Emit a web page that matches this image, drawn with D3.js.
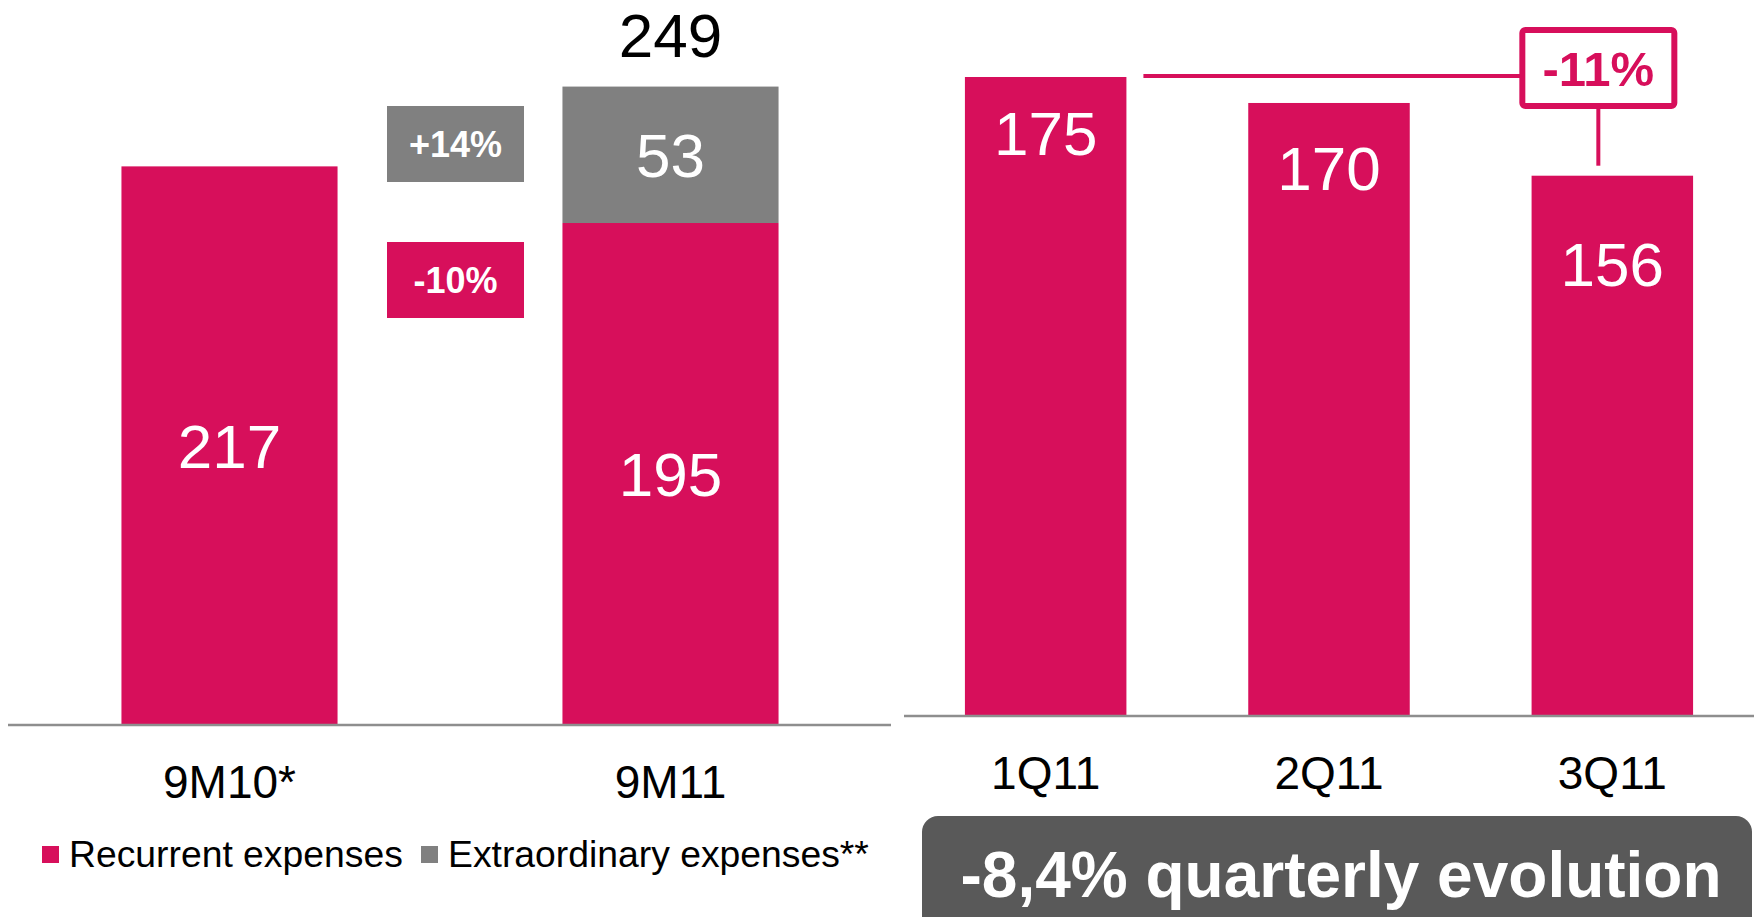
<!DOCTYPE html>
<html>
<head>
<meta charset="utf-8">
<script src="https://cdn.jsdelivr.net/npm/d3@7"></script>
<style>
  html, body { margin: 0; padding: 0; background: #ffffff; overflow: hidden; }
  svg { display: block; font-family: "Liberation Sans", Arial, sans-serif; }
</style>
</head>
<body>
<svg id="chart" width="1754" height="917"></svg>
<script>
// Nine-month comparison (stacked: recurrent + extraordinary)
const periods = ["9M10*", "9M11"];
const recurrent = [217, 195];
const extraordinary = [0, 53];
const periodTotals = [null, 249];

// Quarterly recurrent expenses
const quarters = ["1Q11", "2Q11", "3Q11"];
const quarterly = [175, 170, 156];

// Annotations
const changeBadges = [
  { text: "+14%", series: "extra" },
  { text: "-10%", series: "recurrent" }
];
const quarterChange = "-11%";
const headline = "-8,4% quarterly evolution";
const legendItems = [
  { label: "Recurrent expenses", series: "recurrent" },
  { label: "Extraordinary expenses**", series: "extra" }
];

const PINK = "#d70f5b";
const GREY = "#808080";
const AXIS = "#8e8e8e";
const colour = { recurrent: PINK, extra: GREY };

const svg = d3.select("#chart");

// ---------- left panel: 9M comparison ----------
const xL = d3.scaleBand().domain(periods).range([9, 891]).paddingInner(0.51).paddingOuter(0.255);
const yL = d3.scaleLinear().domain([0, 249]).range([725, 84]);

const left = svg.append("g");
const rows = periods.map((p, i) => ({ p, r: recurrent[i], e: extraordinary[i], t: periodTotals[i] }));

left.selectAll("rect.rec").data(rows).join("rect")
  .attr("x", d => xL(d.p)).attr("width", xL.bandwidth())
  .attr("y", d => yL(d.r)).attr("height", d => yL(0) - yL(d.r))
  .attr("fill", PINK);

left.selectAll("rect.ext").data(rows.filter(d => d.e > 0)).join("rect")
  .attr("x", d => xL(d.p)).attr("width", xL.bandwidth())
  .attr("y", d => yL(d.r + d.e)).attr("height", d => yL(d.r) - yL(d.r + d.e))
  .attr("fill", GREY);

// segment values, centred in each segment
left.selectAll("text.rv").data(rows).join("text")
  .attr("x", d => xL(d.p) + xL.bandwidth() / 2)
  .attr("y", d => (yL(0) + yL(d.r)) / 2 + 22)
  .attr("text-anchor", "middle").attr("fill", "#fff").attr("font-size", 62)
  .text(d => d.r);

left.selectAll("text.ev").data(rows.filter(d => d.e > 0)).join("text")
  .attr("x", d => xL(d.p) + xL.bandwidth() / 2)
  .attr("y", d => (yL(d.r) + yL(d.r + d.e)) / 2 + 22)
  .attr("text-anchor", "middle").attr("fill", "#fff").attr("font-size", 62)
  .text(d => d.e);

left.selectAll("text.tot").data(rows.filter(d => d.t)).join("text")
  .attr("x", d => xL(d.p) + xL.bandwidth() / 2)
  .attr("y", d => yL(d.t) - 27)
  .attr("text-anchor", "middle").attr("fill", "#000").attr("font-size", 62)
  .text(d => d.t);

// baseline + category labels
left.append("line").attr("x1", 8).attr("x2", 891).attr("y1", 725).attr("y2", 725)
  .attr("stroke", AXIS).attr("stroke-width", 2.5);
left.selectAll("text.cat").data(periods).join("text")
  .attr("x", d => xL(d) + xL.bandwidth() / 2).attr("y", 798)
  .attr("text-anchor", "middle").attr("font-size", 46).attr("fill", "#000")
  .text(d => d);

// change badges between the two bars
const badgeX = 387, badgeW = 137, badgeH = 76;
const badgeTops = [106, 242];
changeBadges.forEach((b, i) => {
  left.append("rect").attr("x", badgeX).attr("y", badgeTops[i])
    .attr("width", badgeW).attr("height", badgeH).attr("fill", colour[b.series]);
  left.append("text").attr("x", badgeX + badgeW / 2).attr("y", badgeTops[i] + badgeH / 2 + 13)
    .attr("text-anchor", "middle").attr("fill", "#fff").attr("font-size", 36).attr("font-weight", "bold")
    .text(b.text);
});

// legend
const legend = left.append("g");
const legendX = [42, 421];
legendItems.forEach((it, i) => {
  legend.append("rect").attr("x", legendX[i]).attr("y", 846).attr("width", 17).attr("height", 17)
    .attr("fill", colour[it.series]);
  legend.append("text").attr("x", legendX[i] + 27).attr("y", 867)
    .attr("font-size", 37.3).attr("fill", "#000").text(it.label);
});

// ---------- right panel: quarterly ----------
const xR = d3.scaleBand().domain(quarters).range([904, 1754]).paddingInner(0.43).paddingOuter(0.215);
const yR = d3.scaleLinear().domain([52, 175]).range([716, 77]);

const right = svg.append("g");
const qrows = quarters.map((q, i) => ({ q, v: quarterly[i] }));
const labelDrop = [78, 87, 110];

right.selectAll("rect").data(qrows).join("rect")
  .attr("x", d => xR(d.q)).attr("width", xR.bandwidth())
  .attr("y", d => yR(d.v)).attr("height", d => yR.range()[0] - yR(d.v))
  .attr("fill", PINK);

right.selectAll("text.val").data(qrows).join("text")
  .attr("x", d => xR(d.q) + xR.bandwidth() / 2)
  .attr("y", (d, i) => yR(d.v) + labelDrop[i])
  .attr("text-anchor", "middle").attr("fill", "#fff").attr("font-size", 62)
  .text(d => d.v);

right.append("line").attr("x1", 904).attr("x2", 1754).attr("y1", 716).attr("y2", 716)
  .attr("stroke", AXIS).attr("stroke-width", 2.5);

right.selectAll("text.cat").data(quarters).join("text")
  .attr("x", d => xR(d) + xR.bandwidth() / 2).attr("y", 789)
  .attr("text-anchor", "middle").attr("font-size", 46).attr("fill", "#000")
  .text(d => d);

// first-to-last quarter change callout
const firstQ = qrows[0], lastQ = qrows[qrows.length - 1];
const lastCx = xR(lastQ.q) + xR.bandwidth() / 2 - 14;
const boxW = 152, boxH = 76, boxTop = 30;
const lineY = yR(firstQ.v) - 1;
right.append("line")
  .attr("x1", xR(firstQ.q) + xR.bandwidth() + 17).attr("x2", lastCx - boxW / 2)
  .attr("y1", lineY).attr("y2", lineY)
  .attr("stroke", PINK).attr("stroke-width", 4);
right.append("line")
  .attr("x1", lastCx).attr("x2", lastCx)
  .attr("y1", boxTop + boxH).attr("y2", yR(lastQ.v) - 10)
  .attr("stroke", PINK).attr("stroke-width", 4);
right.append("rect")
  .attr("x", lastCx - boxW / 2).attr("y", boxTop).attr("width", boxW).attr("height", boxH)
  .attr("rx", 3).attr("fill", "#fff").attr("stroke", PINK).attr("stroke-width", 6);
right.append("text")
  .attr("x", lastCx).attr("y", boxTop + boxH / 2 + 18)
  .attr("text-anchor", "middle").attr("fill", PINK).attr("font-size", 49).attr("font-weight", "bold")
  .text(quarterChange);

// headline banner
right.append("rect").attr("x", 922).attr("y", 816).attr("width", 830).attr("height", 140)
  .attr("rx", 16).attr("fill", "#595959");
right.append("text").attr("x", 1341).attr("y", 897)
  .attr("text-anchor", "middle").attr("fill", "#fff").attr("font-size", 64).attr("font-weight", "bold")
  .text(headline);
</script>
</body>
</html>
